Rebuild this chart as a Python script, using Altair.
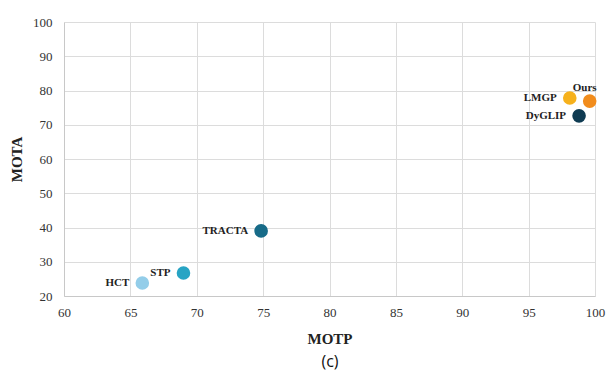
import altair as alt
import pandas as pd

methods = ["HCT", "STP", "TRACTA", "DyGLIP", "LMGP", "Ours"]
motp = [65.9, 69.0, 74.85, 98.8, 98.1, 99.6]
mota = [23.8, 26.7, 39.0, 72.6, 77.8, 76.9]
colors = ["#93cde9", "#27a4c4", "#176b88", "#0f3b52", "#f6b11c", "#f18c1c"]

df = pd.DataFrame({"method": methods, "MOTP": motp, "MOTA": mota, "color": colors})

SERIF = "Liberation Serif, Times New Roman, serif"

x = alt.X("MOTP:Q", scale=alt.Scale(domain=[60, 100], nice=False, zero=False),
          axis=alt.Axis(values=list(range(60, 101, 5)), title="MOTP", grid=True,
                        ticks=False, labelPadding=10, titlePadding=12, labelFlush=False))
y = alt.Y("MOTA:Q", scale=alt.Scale(domain=[20, 100], nice=False, zero=False),
          axis=alt.Axis(values=list(range(20, 101, 10)), title="MOTA", grid=True,
                        ticks=False, labelPadding=12, titlePadding=8, labelFlush=False))

base = alt.Chart(df)
points = base.mark_circle(size=185, opacity=1).encode(
    x=x, y=y, color=alt.Color("color:N", scale=None))

labels = base.transform_filter(alt.datum.method != "Ours").mark_text(
    align="right", baseline="middle", dx=-13, font=SERIF,
    fontWeight="bold", fontSize=11, color="#222").encode(x=x, y=y, text="method:N")

ours_label = base.transform_filter(alt.datum.method == "Ours").mark_text(
    align="center", baseline="middle", dx=-5, dy=-13, font=SERIF,
    fontWeight="bold", fontSize=11, color="#222").encode(x=x, y=y, text="method:N")

caption = alt.Chart(pd.DataFrame({"t": ["(c)"]})).mark_text(
    font="Open Sans", fontSize=16, color="#111", align="center", baseline="middle"
).encode(x=alt.value(266), y=alt.value(340), text="t:N")

chart = alt.layer(points, labels, ours_label, caption).properties(
    width=531, height=274,
    autosize=alt.AutoSizeParams(type="none"),
    padding={"left": 56, "top": 14, "right": 11, "bottom": 76},
).configure_view(stroke=None).configure_axis(
    labelFont=SERIF, labelFontSize=13, labelColor="#333",
    titleFont=SERIF, titleFontSize=15, titleFontWeight="bold", titleColor="#222",
    gridColor="#dcdcdc", domainColor="#c8c8c8",
).configure_axisX(domain=True).configure_axisY(domain=True)

chart.save("out.html", embed_options={"renderer": "svg", "actions": False})
